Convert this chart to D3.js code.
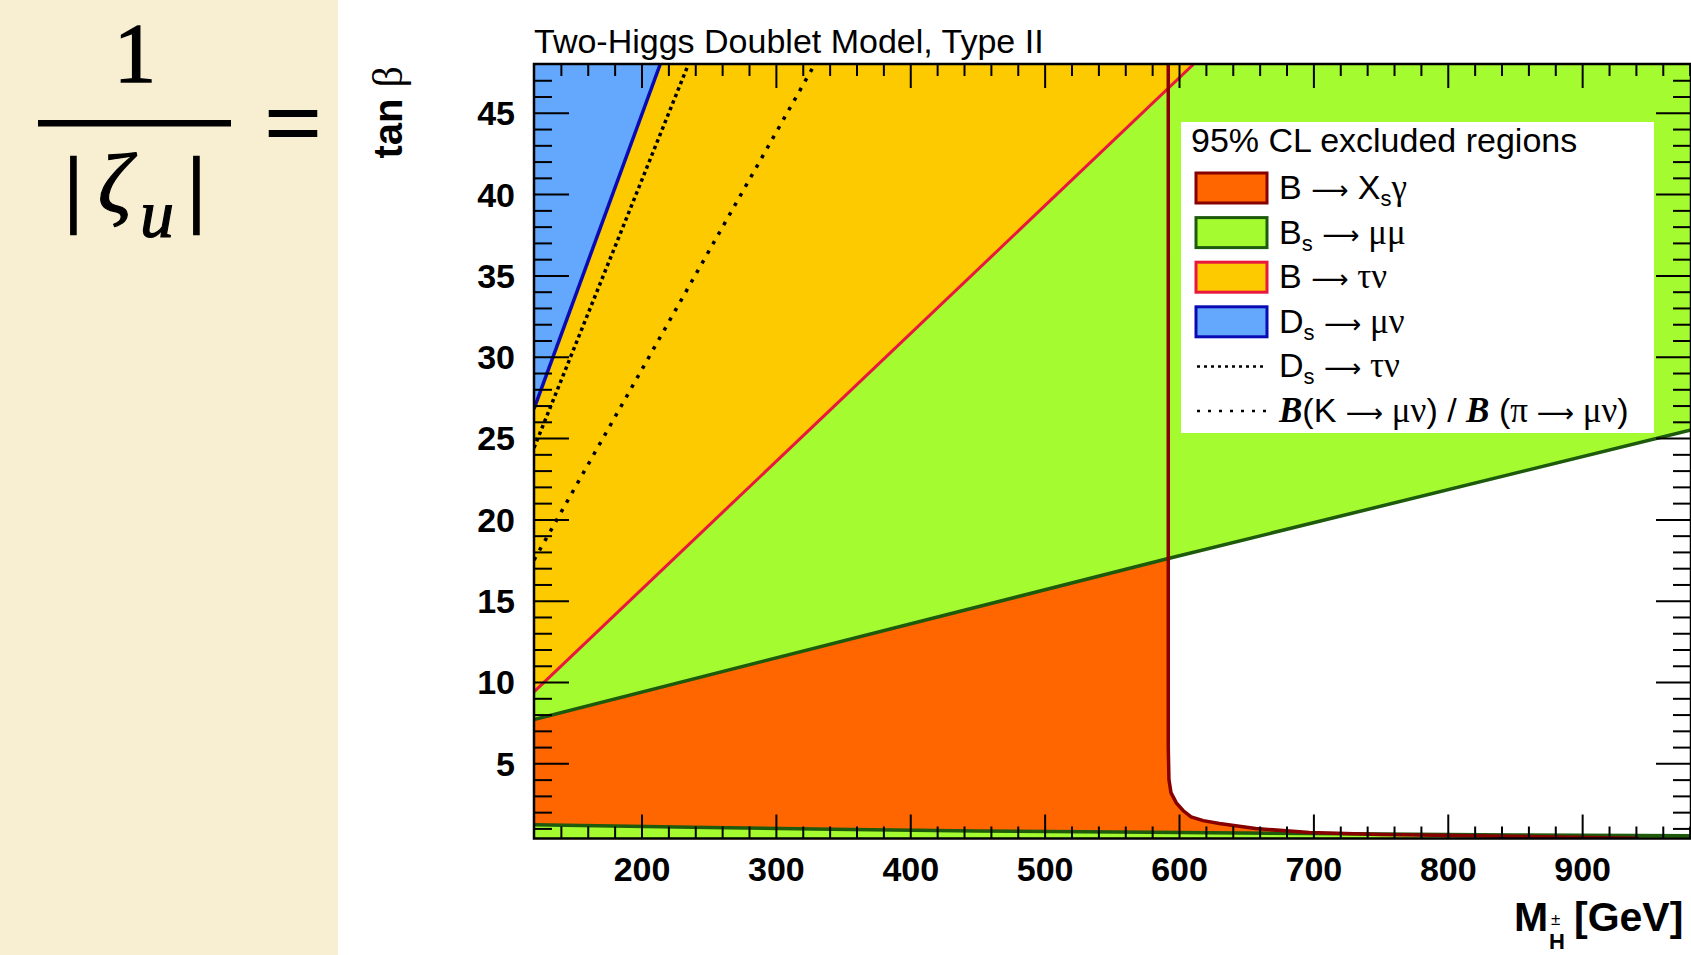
<!DOCTYPE html>
<html>
<head>
<meta charset="utf-8">
<script src="https://cdn.jsdelivr.net/npm/d3@7"></script>
<style>
html, body { margin:0; padding:0; background:#fff; overflow:hidden; }
svg { display:block; }
</style>
</head>
<body>
<svg id="chart" width="1691" height="955"></svg>
<script>
// boundaries of the excluded regions: [M_H (GeV), tan beta]
var xsgammaEdge = [[592,48],[592,6],[592.5,4],[594,3.2],[598,2.57],[603,2.1],[609,1.71],[618,1.48],[630,1.3],[657,0.99],[697,0.75],[750,0.62],[830,0.54],[942,0.4]];
var bsmumuEdge = [[120,7.7],[592,17.6],[981,25.5]];
var bsmumuLow = [[120,1.23],[250,1.05],[356,0.93],[450,0.84],[578,0.76],[700,0.68],[850,0.6],[981,0.55]];
var btaunuEdge = [[120,9.4],[611,48]];
var dsmunuEdge = [[120,26.8],[214,48]];
var dstaunuLine = [[120,24.4],[235,48]];
var kpiLine = [[120,17.5],[329,48]];

var xMajor = [200,300,400,500,600,700,800,900];
var yMajor = [5,10,15,20,25,30,35,40,45];

var title = "Two-Higgs Doublet Model, Type II";
var legendTitle = "95% CL excluded regions";
// each label is a list of [text, kind]; n = sans, s = subscript, g = greek, a = arrow, b = bold italic serif
var legendLabels = [
    [["B ","n"],["\u27f6","a"],[" X","n"],["s","s"],["\u03b3","g"]],
    [["B","n"],["s","s"],[" ","n"],["\u27f6","a"],[" \u03bc\u03bc","g"]],
    [["B ","n"],["\u27f6","a"],[" \u03c4\u03bd","g"]],
    [["D","n"],["s","s"],[" ","n"],["\u27f6","a"],[" \u03bc\u03bd","g"]],
    [["D","n"],["s","s"],[" ","n"],["\u27f6","a"],[" \u03c4\u03bd","g"]],
    [["B","b"],["(K ","n"],["\u27f6","a"],[" \u03bc\u03bd","g"],[") / ","n"],["B","b"],[" (","n"],["\u03c0 ","g"],["\u27f6","a"],[" \u03bc\u03bd","g"],[")","n"]]
];

function base(){
    var W = 1691, H = 955;
    var left = 534, right = 1691, top = 64, bottom = 838.5;

    var x = d3.scaleLinear().domain([120, 981]).range([left, right]);
    var y = d3.scaleLinear().domain([0.38, 48]).range([bottom, top]);

    var svg = d3.select("#chart");
    var sans = "'Liberation Sans', Arial, Helvetica, sans-serif";
    var serif = "'Liberation Serif', 'Times New Roman', serif";

    //beige panel with the formula
    svg.append("rect")
        .attr("x", 0).attr("y", 0)
        .attr("width", 338).attr("height", H)
        .attr("fill", "#f8efd3");
    var formula = svg.append("g")
        .attr("font-family", serif)
        .attr("fill", "#000").attr("stroke", "#000");
    formula.append("text")
        .attr("x", 135).attr("y", 82)
        .attr("text-anchor", "middle")
        .attr("font-size", 84).attr("stroke-width", 1.5)
        .text("1");
    formula.append("rect")
        .attr("x", 38).attr("y", 120)
        .attr("width", 193).attr("height", 6.5)
        .attr("stroke", "none");
    formula.append("text")
        .attr("x", 73.5).attr("y", 216)
        .attr("text-anchor", "middle")
        .attr("font-size", 84).attr("stroke-width", 2.5)
        .text("|");
    formula.append("text")
        .attr("x", 196.5).attr("y", 216)
        .attr("text-anchor", "middle")
        .attr("font-size", 84).attr("stroke-width", 2.5)
        .text("|");
    var zeta = formula.append("text")
        .attr("x", 98).attr("y", 212)
        .attr("font-style", "italic").attr("font-size", 84).attr("stroke-width", 1.2);
    zeta.append("tspan").text("\u03b6");
    zeta.append("tspan").attr("x", 140).attr("y", 237).attr("font-size", 68).text("u");
    formula.append("text")
        .attr("x", 293).attr("y", 157)
        .attr("text-anchor", "middle")
        .attr("font-size", 100).attr("stroke-width", 2)
        .text("=");

    //plot area
    svg.append("clipPath").attr("id", "plotclip")
        .append("rect")
        .attr("x", left).attr("y", top)
        .attr("width", right - left).attr("height", bottom - top);

    var plot = svg.append("g").attr("clip-path", "url(#plotclip)");
    plot.append("rect")
        .attr("x", left).attr("y", top)
        .attr("width", right - left).attr("height", bottom - top)
        .attr("fill", "#fff");

    var line = d3.line().x(function(d) { return x(d[0]); }).y(function(d) { return y(d[1]); });
    var above = d3.area()
        .x(function(d) { return x(d[0]); })
        .y0(function(d) { return y(d[1]); })
        .y1(y(48));
    var below = d3.area()
        .x(function(d) { return x(d[0]); })
        .y0(y(0.38))
        .y1(function(d) { return y(d[1]); });

    var last = xsgammaEdge[xsgammaEdge.length - 1];
    var xsgammaShape = [[120, 48]].concat(xsgammaEdge, [[last[0], 0.38], [120, 0.38]]);

    plot.append("path").attr("d", line(xsgammaShape) + "Z").attr("fill", "#ff6600");
    plot.append("path").attr("d", above(bsmumuEdge)).attr("fill", "#a4fb2f");
    plot.append("path").attr("d", below(bsmumuLow)).attr("fill", "#a4fb2f");
    plot.append("path").attr("d", above(btaunuEdge)).attr("fill", "#fdca00");
    plot.append("path").attr("d", above(dsmunuEdge)).attr("fill", "#63a8fc");

    plot.append("path").attr("d", line(bsmumuEdge))
        .attr("fill", "none").attr("stroke", "#1d5a0c").attr("stroke-width", 3.5);
    plot.append("path").attr("d", line(bsmumuLow))
        .attr("fill", "none").attr("stroke", "#1d5a0c").attr("stroke-width", 3.5);
    plot.append("path").attr("d", line(btaunuEdge))
        .attr("fill", "none").attr("stroke", "#e8173e").attr("stroke-width", 3);
    plot.append("path").attr("d", line(dsmunuEdge))
        .attr("fill", "none").attr("stroke", "#0a0ab4").attr("stroke-width", 3.5);
    plot.append("path").attr("d", line(dstaunuLine))
        .attr("fill", "none").attr("stroke", "#000").attr("stroke-width", 3.5)
        .attr("stroke-dasharray", "3.5,3.5");
    plot.append("path").attr("d", line(kpiLine))
        .attr("fill", "none").attr("stroke", "#000").attr("stroke-width", 3.5)
        .attr("stroke-dasharray", "3.5,7.5");
    plot.append("path").attr("d", line(xsgammaEdge))
        .attr("fill", "none").attr("stroke", "#860000").attr("stroke-width", 3.5);

    //ticks on all four sides, pointing inward
    var xMinor = d3.range(140, 981, 20).filter(function(v) { return v % 100 != 0; });
    var yMinor = d3.range(1, 48, 1).filter(function(v) { return v % 5 != 0; });

    function ticks(axis, tx, ty) {
        var g = svg.append("g").attr("transform", "translate(" + tx + "," + ty + ")").call(axis);
        g.select(".domain").remove();
        g.selectAll("line").attr("stroke", "#000").attr("stroke-width", 2);
        return g;
    }

    ticks(d3.axisBottom(x).tickValues(xMinor).tickSize(-12).tickFormat(""), 0, bottom);
    ticks(d3.axisTop(x).tickValues(xMinor).tickSize(-12).tickFormat(""), 0, top);
    ticks(d3.axisTop(x).tickValues(xMajor).tickSize(-24).tickFormat(""), 0, top);
    ticks(d3.axisRight(y).tickValues(yMinor).tickSize(-18).tickFormat(""), right, 0);
    ticks(d3.axisRight(y).tickValues(yMajor).tickSize(-35).tickFormat(""), right, 0);
    ticks(d3.axisLeft(y).tickValues(yMinor).tickSize(-18).tickFormat(""), left, 0);

    var xAxis = ticks(d3.axisBottom(x).tickValues(xMajor).tickSize(-24).tickPadding(18), 0, bottom);
    xAxis.selectAll("text")
        .attr("font-family", sans).attr("font-weight", "bold").attr("font-size", 34)
        .attr("fill", "#000");
    var yAxis = ticks(d3.axisLeft(y).tickValues(yMajor).tickSize(-35).tickPadding(19), left, 0);
    yAxis.selectAll("text")
        .attr("font-family", sans).attr("font-weight", "bold").attr("font-size", 34)
        .attr("fill", "#000").attr("dy", "0.35em");

    //frame
    svg.append("rect")
        .attr("x", left).attr("y", top)
        .attr("width", right - left).attr("height", bottom - top)
        .attr("fill", "none").attr("stroke", "#000").attr("stroke-width", 2.5);

    //title
    svg.append("text")
        .attr("x", left).attr("y", 53)
        .attr("font-family", sans).attr("font-size", 34)
        .text(title);

    //axis titles
    var xt = svg.append("g").attr("font-family", sans).attr("font-weight", "bold");
    xt.append("text").attr("x", 1514).attr("y", 931).attr("font-size", 41).text("M");
    xt.append("text").attr("x", 1549).attr("y", 949).attr("font-size", 22).text("H");
    xt.append("text").attr("x", 1551).attr("y", 925).attr("font-size", 17).attr("font-weight", "normal").text("\u00b1");
    xt.append("text").attr("x", 1574).attr("y", 931).attr("font-size", 41).text("[GeV]");

    var yt = svg.append("text")
        .attr("transform", "translate(402," + (top + 2) + ") rotate(-90)")
        .attr("text-anchor", "end")
        .attr("font-family", sans).attr("font-size", 40);
    yt.append("tspan").attr("font-weight", "bold").text("tan ");
    yt.append("tspan").attr("font-family", serif).attr("font-size", 42).text("\u03b2");

    //legend
    var lx = 1181, ly = 122;
    var legend = svg.append("g");
    legend.append("rect")
        .attr("x", lx).attr("y", ly)
        .attr("width", 473).attr("height", 311)
        .attr("fill", "#fff");
    legend.append("text")
        .attr("x", lx + 10).attr("y", ly + 30)
        .attr("font-family", sans).attr("font-size", 34)
        .text(legendTitle);

    var swatch = [
        {fill: "#ff6600", stroke: "#860000"},
        {fill: "#a4fb2f", stroke: "#1d5a0c"},
        {fill: "#fdca00", stroke: "#e8173e"},
        {fill: "#63a8fc", stroke: "#0a0ab4"},
        {dash: "3,4"},
        {dash: "3,8"}
    ];

    var rows = legend.selectAll("g.row")
        .data(legendLabels)
        .enter()
        .append("g")
        .attr("class", "row")
        .attr("transform", function(d, i) { return "translate(" + lx + "," + (ly + 66 + i * 44.6) + ")"; });

    rows.each(function(d, i) {
        var g = d3.select(this);
        var s = swatch[i];
        if (s.fill) {
            g.append("rect")
                .attr("x", 15).attr("y", -15)
                .attr("width", 71).attr("height", 30)
                .attr("fill", s.fill).attr("stroke", s.stroke).attr("stroke-width", 3);
        } else {
            g.append("line")
                .attr("x1", 16).attr("x2", 86).attr("y1", 0).attr("y2", 0)
                .attr("stroke", "#000").attr("stroke-width", 2.5)
                .attr("stroke-dasharray", s.dash);
        }
        var t = g.append("text")
            .attr("x", 98).attr("y", 11)
            .attr("font-family", sans).attr("font-size", 34);
        d.forEach(function(p) {
            var sp = t.append("tspan").text(p[0]);
            if (p[1] == "g") sp.attr("font-family", serif).attr("font-size", 35);
            if (p[1] == "a") sp.attr("font-family", "'DejaVu Sans', sans-serif").attr("font-size", 26);
            if (p[1] == "b") sp.attr("font-family", serif).attr("font-weight", "bold").attr("font-style", "italic").attr("font-size", 35);
            if (p[1] == "s") sp.attr("font-size", 22).attr("baseline-shift", "-30%");
        });
    });
}

window.onload = base;
</script>
</body>
</html>
